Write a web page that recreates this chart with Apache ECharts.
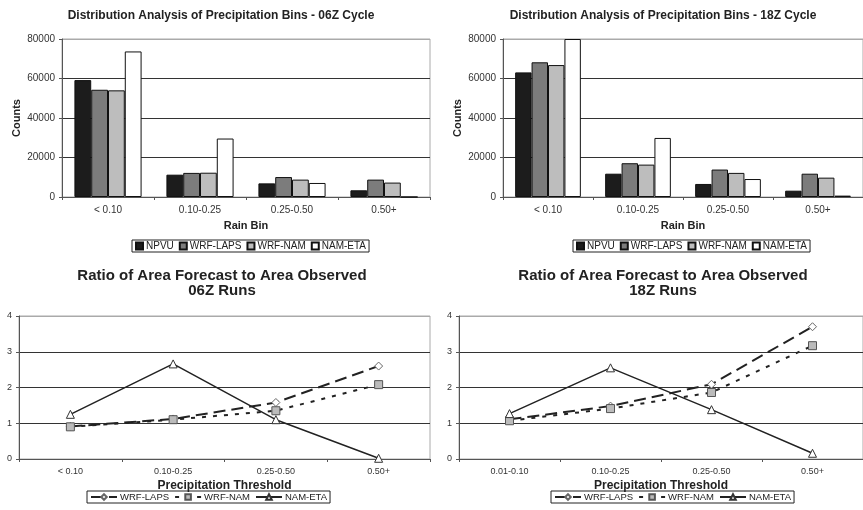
<!DOCTYPE html>
<html>
<head>
<meta charset="utf-8">
<script src="https://cdn.jsdelivr.net/npm/echarts@6/dist/echarts.min.js"></script>
<style>
	html, body { margin: 0; padding: 0; background: #fff; }
	#chart { width: 863px; height: 510px; }
</style>
</head>
<body>
<div id="chart"></div>
<script>
// rain bins (top charts)
var rainBins = ['< 0.10', '0.10-0.25', '0.25-0.50', '0.50+'];
var barNames = ['NPVU', 'WRF-LAPS', 'WRF-NAM', 'NAM-ETA'];

// counts, 06Z cycle
var npvu06 = [59200, 11300, 6900, 3400];
var laps06 = [54300, 12200, 10100, 8800];
var nam06 = [54000, 12300, 8800, 7300];
var eta06 = [73700, 29600, 7100, 0];

// counts, 18Z cycle
var npvu18 = [63100, 11800, 6600, 3200];
var laps18 = [68200, 17100, 13900, 11800];
var nam18 = [66800, 16400, 12200, 9800];
var eta18 = [80000, 29900, 9100, 700];

// thresholds (bottom charts)
var thresh06 = ['< 0.10', '0.10-0.25', '0.25-0.50', '0.50+'];
var thresh18 = ['0.01-0.10', '0.10-0.25', '0.25-0.50', '0.50+'];
var lineNames = ['WRF-LAPS', 'WRF-NAM', 'NAM-ETA'];

// ratio forecast / observed
var ratioLaps06 = [0.91, 1.12, 1.58, 2.6];
var ratioNam06 = [0.9, 1.1, 1.35, 2.08];
var ratioEta06 = [1.25, 2.66, 1.1, 0.02];

var ratioLaps18 = [1.11, 1.48, 2.09, 3.7];
var ratioNam18 = [1.07, 1.41, 1.86, 3.17];
var ratioEta18 = [1.27, 2.55, 1.38, 0.16];

var FONT = '"Liberation Sans", Arial, sans-serif';
var barColors = ['#1c1c1c', '#7c7c7c', '#bdbdbd', '#ffffff'];
// line series get their own names, otherwise the legend takes the bar icon
var PRE = 'ratio ';

function catAxis(idx, cats, name, gap, nameSize, labelSize) {
	return {
		type: 'category', gridIndex: idx, data: cats,
		name: name, nameLocation: 'middle', nameGap: gap,
		nameTextStyle: { fontFamily: FONT, fontWeight: 'bold', fontSize: nameSize, color: '#222' },
		axisLine: { lineStyle: { color: '#555', width: 1 } },
		axisTick: { show: true, length: 3, lineStyle: { color: '#555' } },
		axisLabel: { fontFamily: FONT, fontSize: labelSize, color: '#333', margin: 8 }
	};
}

function valAxis(idx, max, interval, name, labelSize) {
	return {
		type: 'value', gridIndex: idx, min: 0, max: max, interval: interval,
		name: name, nameLocation: 'middle', nameGap: 40,
		nameTextStyle: { fontFamily: FONT, fontWeight: 'bold', fontSize: 11, color: '#222' },
		axisLine: { show: true, lineStyle: { color: '#555', width: 1 } },
		axisTick: { show: true, length: 3, lineStyle: { color: '#555' } },
		axisLabel: {
			fontFamily: FONT, fontSize: labelSize, color: '#333', margin: 7,
			formatter: function(v) { return String(v); }
		},
		splitLine: { show: true, lineStyle: { color: ['#555', '#333', '#333', '#333', '#aaa'], width: 1 } }
	};
}

function barSeries(idx, data) {
	var out = [];
	for (var i = 0; i < data.length; i++) {
		out.push({
			name: barNames[i], type: 'bar', xAxisIndex: idx, yAxisIndex: idx,
			data: data[i], barGap: '0%', barCategoryGap: '27%',
			itemStyle: { color: barColors[i], borderColor: '#111', borderWidth: 1 }
		});
	}
	return out;
}

function lineSeries(idx, laps, nam, eta) {
	return [
		{
			name: PRE + 'WRF-LAPS', type: 'line', xAxisIndex: idx, yAxisIndex: idx, data: laps,
			symbol: 'diamond', symbolSize: 8,
			itemStyle: { color: '#fff', borderColor: '#666', borderWidth: 1 },
			lineStyle: { color: '#222', width: 2, type: [12, 6] }
		},
		{
			name: PRE + 'WRF-NAM', type: 'line', xAxisIndex: idx, yAxisIndex: idx, data: nam,
			symbol: 'rect', symbolSize: 8,
			itemStyle: { color: '#bbb', borderColor: '#555', borderWidth: 1 },
			lineStyle: { color: '#222', width: 2, type: [4, 7] }
		},
		{
			name: PRE + 'NAM-ETA', type: 'line', xAxisIndex: idx, yAxisIndex: idx, data: eta,
			symbol: 'triangle', symbolSize: 8,
			itemStyle: { color: '#fff', borderColor: '#333', borderWidth: 1 },
			lineStyle: { color: '#222', width: 1.5 }
		}
	];
}

function titleAt(text, left, top, size, lh) {
	return {
		text: text, left: left, top: top, textAlign: 'center',
		textStyle: { fontFamily: FONT, fontWeight: 'bold', fontSize: size, color: '#222', lineHeight: lh }
	};
}

function legendAt(names, left, top, isBar) {
	var lg = {
		left: left, top: top,
		itemWidth: isBar ? 7 : 26, itemHeight: 7, itemGap: 5,
		padding: [1, 3], borderColor: '#222', borderWidth: 1, borderRadius: 0,
		selectedMode: false,
		textStyle: { fontFamily: FONT, fontSize: isBar ? 10 : 9.5, color: '#222', padding: [0, 0, 0, -2] }
	};
	if (isBar) {
		lg.icon = 'rect';
		lg.data = names;
	} else {
		lg.data = names.map(function(n) { return PRE + n; });
		lg.formatter = function(n) { return n.replace(PRE, ''); };
	}
	return lg;
}

var myChart = echarts.init(document.getElementById('chart'));
var option = {
	backgroundColor: '#fff',
	animation: false,
	title: [
		titleAt('Distribution Analysis of Precipitation Bins - 06Z Cycle', 216, 4, 12, 14),
		titleAt('Distribution Analysis of Precipitation Bins - 18Z Cycle', 658, 4, 12, 14),
		titleAt('Ratio of Area Forecast to Area Observed\n06Z Runs', 217, 263, 15, 15),
		titleAt('Ratio of Area Forecast to Area Observed\n18Z Runs', 658, 263, 15, 15)
	],
	legend: [
		legendAt(barNames, 132, 240, true),
		legendAt(barNames, 573, 240, true),
		legendAt(lineNames, 87, 491, false),
		legendAt(lineNames, 551, 491, false)
	],
	grid: [
		{ left: 62, top: 39, width: 368, height: 158, show: true, borderColor: '#aaa', borderWidth: 1 },
		{ left: 503, top: 39, width: 368, height: 158, show: true, borderColor: '#aaa', borderWidth: 1 },
		{ left: 19, top: 316, width: 411, height: 143, show: true, borderColor: '#aaa', borderWidth: 1 },
		{ left: 459, top: 316, width: 412, height: 143, show: true, borderColor: '#aaa', borderWidth: 1 }
	],
	xAxis: [
		catAxis(0, rainBins, 'Rain Bin', 23, 11, 10),
		catAxis(1, rainBins, 'Rain Bin', 23, 11, 10),
		catAxis(2, thresh06, 'Precipitation Threshold', 21, 12, 9),
		catAxis(3, thresh18, 'Precipitation Threshold', 21, 12, 9)
	],
	yAxis: [
		valAxis(0, 80000, 20000, 'Counts', 10),
		valAxis(1, 80000, 20000, 'Counts', 10),
		valAxis(2, 4, 1, '', 9),
		valAxis(3, 4, 1, '', 9)
	],
	series: [].concat(
		barSeries(0, [npvu06, laps06, nam06, eta06]),
		barSeries(1, [npvu18, laps18, nam18, eta18]),
		lineSeries(2, ratioLaps06, ratioNam06, ratioEta06),
		lineSeries(3, ratioLaps18, ratioNam18, ratioEta18)
	)
};
myChart.setOption(option);
</script>
</body>
</html>
